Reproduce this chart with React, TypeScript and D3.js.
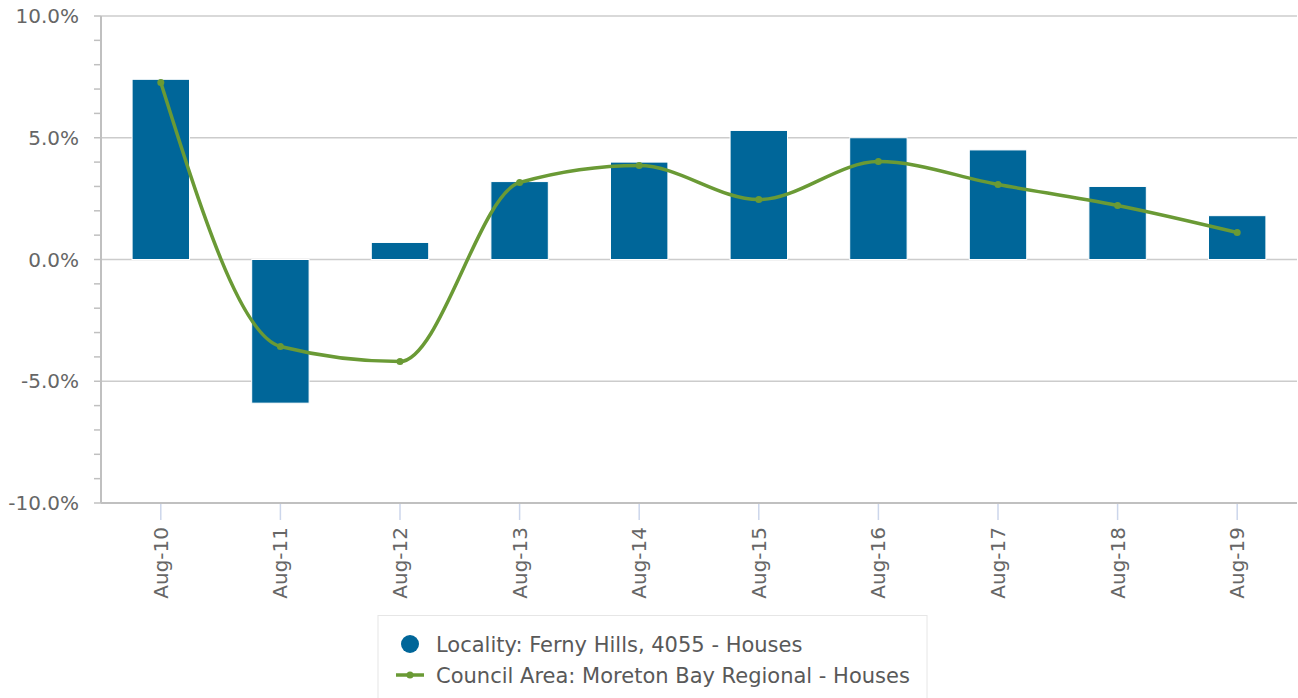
import { useEffect, useRef } from "react";
import * as d3 from "d3";

const categories = ["Aug-10", "Aug-11", "Aug-12", "Aug-13", "Aug-14", "Aug-15", "Aug-16", "Aug-17", "Aug-18", "Aug-19"];
const localityValues = [7.4, -5.9, 0.7, 3.2, 4.0, 5.3, 5.0, 4.5, 3.0, 1.8];
const councilValues = [7.27, -3.57, -4.19, 3.16, 3.86, 2.46, 4.02, 3.08, 2.22, 1.11];
const yTicks = [-10, -5, 0, 5, 10];
const legendLabels = ["Locality: Ferny Hills, 4055 - Houses", "Council Area: Moreton Bay Regional - Houses"];

const W = 1298;
const H = 698;
const BAR = "#006699";
const LINE = "#6a9a35";
const FONT = "DejaVu Sans, sans-serif";

const App = () => {
  const ref = useRef<SVGSVGElement>(null);

  useEffect(() => {
    const svg = d3.select(ref.current);
    svg.selectAll("*").remove();

    const left = 101;
    const right = 1297;
    const top = 16;
    const bottom = 503;

    const x = d3.scaleBand().domain(categories).range([left, right]).padding(0);
    const y = d3.scaleLinear().domain([-10, 10]).range([bottom, top]);
    const step = x.step();
    const cx = (c: string) => (x(c) as number) + step / 2;

    // grid
    svg
      .append("g")
      .selectAll("line")
      .data(yTicks)
      .join("line")
      .attr("x1", left)
      .attr("x2", right)
      .attr("y1", (d) => y(d))
      .attr("y2", (d) => y(d))
      .attr("stroke", "#cccccc")
      .attr("stroke-width", 1.5);

    // y minor ticks
    svg
      .append("g")
      .selectAll("line")
      .data(d3.range(-10, 11, 1))
      .join("line")
      .attr("x1", left - 7)
      .attr("x2", left)
      .attr("y1", (d) => y(d))
      .attr("y2", (d) => y(d))
      .attr("stroke", "#c0c0c0")
      .attr("stroke-width", 1.5);

    // y axis line
    svg
      .append("line")
      .attr("x1", left)
      .attr("x2", left)
      .attr("y1", top)
      .attr("y2", bottom)
      .attr("stroke", "#c0c0c0")
      .attr("stroke-width", 2);

    // y labels
    svg
      .append("g")
      .selectAll("text")
      .data(yTicks)
      .join("text")
      .attr("x", 79)
      .attr("y", (d) => y(d) + 7)
      .attr("text-anchor", "end")
      .attr("font-family", FONT)
      .attr("font-size", 20)
      .attr("fill", "#666666")
      .text((d) => d.toFixed(1) + "%");

    // x axis line
    svg
      .append("line")
      .attr("x1", left)
      .attr("x2", right)
      .attr("y1", bottom)
      .attr("y2", bottom)
      .attr("stroke", "#c0c0c0")
      .attr("stroke-width", 2);

    // x ticks
    svg
      .append("g")
      .selectAll("line")
      .data(categories)
      .join("line")
      .attr("x1", (d) => cx(d))
      .attr("x2", (d) => cx(d))
      .attr("y1", bottom + 1)
      .attr("y2", bottom + 17)
      .attr("stroke", "#ccd6eb")
      .attr("stroke-width", 1.5);

    // x labels
    svg
      .append("g")
      .selectAll("text")
      .data(categories)
      .join("text")
      .attr("transform", (d) => `translate(${cx(d) + 7},527) rotate(-90)`)
      .attr("text-anchor", "end")
      .attr("font-family", FONT)
      .attr("font-size", 20)
      .attr("fill", "#666666")
      .text((d) => d);

    // bars
    const bw = step * 0.48;
    svg
      .append("g")
      .selectAll("rect")
      .data(localityValues)
      .join("rect")
      .attr("x", (_, i) => cx(categories[i]) - bw / 2)
      .attr("width", bw)
      .attr("y", (d) => y(Math.max(0, d)))
      .attr("height", (d) => Math.abs(y(d) - y(0)))
      .attr("fill", BAR)
      .attr("stroke", "#ffffff")
      .attr("stroke-width", 1);

    // line
    const line = d3
      .line<number>()
      .x((_, i) => cx(categories[i]))
      .y((d) => y(d))
      .curve(d3.curveMonotoneX);

    svg
      .append("path")
      .datum(councilValues)
      .attr("fill", "none")
      .attr("stroke", LINE)
      .attr("stroke-width", 3.5)
      .attr("d", line);

    svg
      .append("g")
      .selectAll("circle")
      .data(councilValues)
      .join("circle")
      .attr("cx", (_, i) => cx(categories[i]))
      .attr("cy", (d) => y(d))
      .attr("r", 3.5)
      .attr("fill", LINE);

    // legend
    const lg = svg.append("g");
    lg.append("rect")
      .attr("x", 378)
      .attr("y", 615.5)
      .attr("width", 549)
      .attr("height", 100)
      .attr("fill", "#ffffff")
      .attr("stroke", "#e6e6e6")
      .attr("stroke-width", 1);

    lg.append("circle").attr("cx", 410).attr("cy", 644).attr("r", 9).attr("fill", BAR);
    lg.append("line")
      .attr("x1", 396)
      .attr("x2", 424)
      .attr("y1", 675)
      .attr("y2", 675)
      .attr("stroke", LINE)
      .attr("stroke-width", 3.5);
    lg.append("circle").attr("cx", 410).attr("cy", 675).attr("r", 3.5).attr("fill", LINE);

    lg.selectAll("text")
      .data(legendLabels)
      .join("text")
      .attr("x", 436)
      .attr("y", (_, i) => 651.5 + i * 31)
      .attr("font-family", FONT)
      .attr("font-size", 21)
      .attr("fill", "#595959")
      .text((d) => d);
  }, []);

  return (
    <div style={{ position: "fixed", left: 0, top: 0 }}>
      <svg ref={ref} width={W} height={H} style={{ display: "block", background: "#ffffff" }} />
    </div>
  );
};

export default App;
